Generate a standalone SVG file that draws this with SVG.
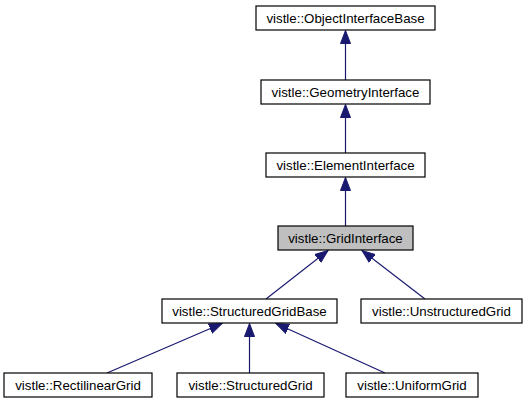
<svg xmlns="http://www.w3.org/2000/svg" width="527" height="403" viewBox="0 0 527 403">
<style>
.box{fill:#ffffff;stroke:#000000;stroke-width:1.2}
.cur{fill:#bfbfbf;stroke:#000000;stroke-width:1.2}
.lbl{font-family:"Liberation Sans",Arial,Helvetica,sans-serif;font-size:13.3px;fill:#000000;text-anchor:middle}
.edge{fill:none;stroke:#191970;stroke-width:1.2;marker-end:url(#arr)}
</style>
<defs>
<marker id="arr" markerUnits="userSpaceOnUse" markerWidth="14" markerHeight="12" viewBox="0 -6 14 12" refX="13" refY="0" orient="auto">
<polygon points="0,-5 13,0 0,5" fill="#191970" stroke="#191970" stroke-width="1"/>
</marker>
</defs>
<rect width="527" height="403" fill="#ffffff"/>
<g id="edges">
<path class="edge" d="M345.5,80 L345.5,30.5"/>
<path class="edge" d="M345.5,153 L345.5,104.5"/>
<path class="edge" d="M345.5,226 L345.5,177.5"/>
<path class="edge" d="M266,299 L328,250.5"/>
<path class="edge" d="M425,299 L362,250.5"/>
<path class="edge" d="M107,373 L222,323.5"/>
<path class="edge" d="M249.5,373 L249.5,323.5"/>
<path class="edge" d="M385,373 L276,323.5"/>
</g>
<g id="ObjectInterfaceBase">
<rect class="box" x="256" y="6" width="179" height="24"/>
<text class="lbl" x="345.5" y="22.7">vistle::ObjectInterfaceBase</text>
</g>
<g id="GeometryInterface">
<rect class="box" x="261" y="80" width="169" height="24"/>
<text class="lbl" x="345.5" y="96.7">vistle::GeometryInterface</text>
</g>
<g id="ElementInterface">
<rect class="box" x="266" y="153" width="159" height="24"/>
<text class="lbl" x="345.5" y="169.7">vistle::ElementInterface</text>
</g>
<g id="GridInterface">
<rect class="cur" x="278" y="226" width="135" height="24"/>
<text class="lbl" x="345.5" y="242.7">vistle::GridInterface</text>
</g>
<g id="StructuredGridBase">
<rect class="box" x="162" y="299" width="175" height="24"/>
<text class="lbl" x="249.5" y="315.7">vistle::StructuredGridBase</text>
</g>
<g id="UnstructuredGrid">
<rect class="box" x="361" y="299" width="161" height="24"/>
<text class="lbl" x="441.5" y="315.7">vistle::UnstructuredGrid</text>
</g>
<g id="RectilinearGrid">
<rect class="box" x="4" y="373" width="148" height="24"/>
<text class="lbl" x="78" y="389.7">vistle::RectilinearGrid</text>
</g>
<g id="StructuredGrid">
<rect class="box" x="177" y="373" width="147" height="24"/>
<text class="lbl" x="250.5" y="389.7">vistle::StructuredGrid</text>
</g>
<g id="UniformGrid">
<rect class="box" x="346" y="373" width="132" height="24"/>
<text class="lbl" x="412" y="389.7">vistle::UniformGrid</text>
</g>
</svg>
